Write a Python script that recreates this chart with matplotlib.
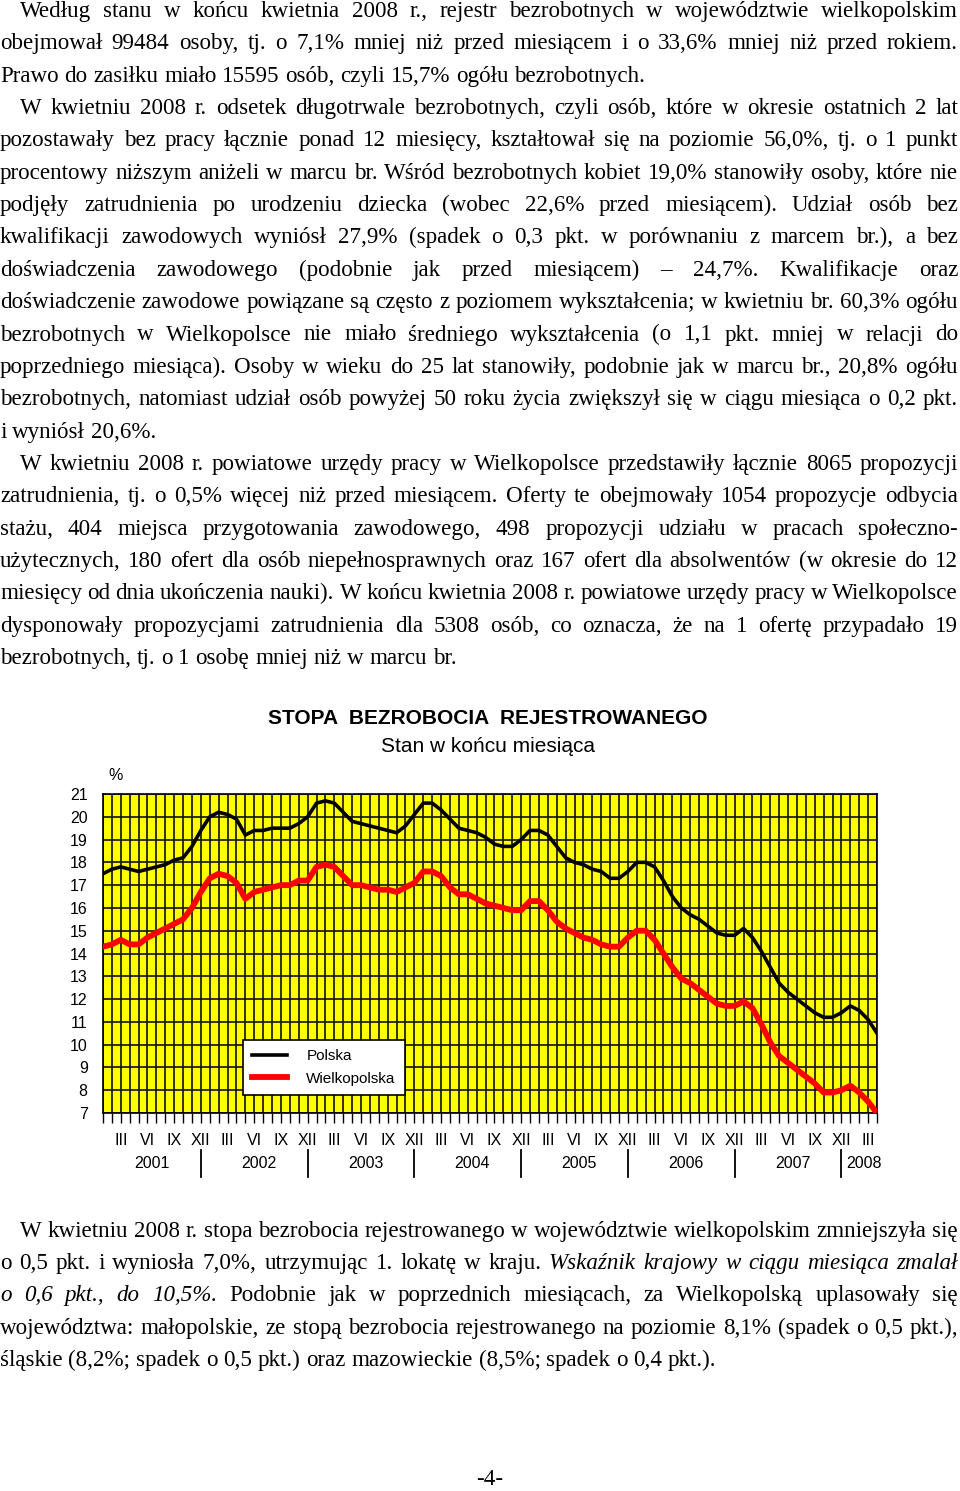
import numpy as np
import matplotlib
matplotlib.use('Agg')
import matplotlib.pyplot as plt
from matplotlib import transforms

W, H = 960, 1491
SERIF = ['Liberation Serif', 'DejaVu Serif']
SANS = ['Liberation Sans', 'DejaVu Sans']
BODY_FS = 16.6
plt.rcParams['font.family'] = SANS

# stopa bezrobocia, styczen 2001 - kwiecien 2008
months = np.arange(88)
polska = [17.5, 17.7, 17.8, 17.7, 17.6, 17.7, 17.8, 17.9, 18.1, 18.2, 18.7, 19.4,
          20.0, 20.2, 20.1, 19.9, 19.2, 19.4, 19.4, 19.5, 19.5, 19.5, 19.7, 20.0,
          20.6, 20.7, 20.6, 20.2, 19.8, 19.7, 19.6, 19.5, 19.4, 19.3, 19.6, 20.1,
          20.6, 20.6, 20.3, 19.9, 19.5, 19.4, 19.3, 19.1, 18.8, 18.7, 18.7, 19.0,
          19.4, 19.4, 19.2, 18.7, 18.2, 18.0, 17.9, 17.7, 17.6, 17.3, 17.3, 17.6,
          18.0, 18.0, 17.8, 17.2, 16.5, 16.0, 15.7, 15.5, 15.2, 14.9, 14.8, 14.8,
          15.1, 14.7, 14.1, 13.4, 12.7, 12.3, 12.0, 11.7, 11.4, 11.2, 11.2, 11.4,
          11.7, 11.5, 11.1, 10.5]
wlkp = [14.3, 14.4, 14.6, 14.4, 14.4, 14.7, 14.9, 15.1, 15.3, 15.5, 16.0, 16.7,
        17.3, 17.5, 17.4, 17.1, 16.4, 16.7, 16.8, 16.9, 17.0, 17.0, 17.2, 17.2,
        17.8, 17.9, 17.8, 17.4, 17.0, 17.0, 16.9, 16.8, 16.8, 16.7, 16.9, 17.1,
        17.6, 17.6, 17.4, 16.9, 16.6, 16.6, 16.4, 16.2, 16.1, 16.0, 15.9, 15.9,
        16.3, 16.3, 15.9, 15.4, 15.1, 14.9, 14.7, 14.6, 14.4, 14.3, 14.3, 14.7,
        15.0, 15.0, 14.6, 14.0, 13.4, 12.9, 12.7, 12.4, 12.1, 11.8, 11.7, 11.7,
        11.9, 11.6, 10.9, 10.1, 9.5, 9.2, 8.9, 8.6, 8.3, 7.9, 7.9, 8.0,
        8.2, 7.9, 7.5, 7.0]
roman = ['III', 'VI', 'IX', 'XII']
years = ['2001', '2002', '2003', '2004', '2005', '2006', '2007', '2008']

top_paragraphs = [
    ["Według stanu w końcu kwietnia 2008 r., rejestr bezrobotnych w województwie wielkopolskim",
     "obejmował 99484 osoby, tj. o 7,1% mniej niż przed miesiącem i o 33,6% mniej niż przed rokiem.",
     "Prawo do zasiłku miało 15595 osób, czyli 15,7% ogółu bezrobotnych."],
    ["W kwietniu 2008 r. odsetek długotrwale bezrobotnych, czyli osób, które w okresie ostatnich 2 lat",
     "pozostawały bez pracy łącznie ponad 12 miesięcy, kształtował się na poziomie 56,0%, tj. o 1 punkt",
     "procentowy niższym aniżeli w marcu br. Wśród bezrobotnych kobiet 19,0% stanowiły osoby, które nie",
     "podjęły zatrudnienia po urodzeniu dziecka (wobec 22,6% przed miesiącem). Udział osób bez",
     "kwalifikacji zawodowych wyniósł 27,9% (spadek o 0,3 pkt. w porównaniu z marcem br.), a bez",
     "doświadczenia zawodowego (podobnie jak przed miesiącem) – 24,7%. Kwalifikacje oraz",
     "doświadczenie zawodowe powiązane są często z poziomem wykształcenia; w kwietniu br. 60,3% ogółu",
     "bezrobotnych w Wielkopolsce nie miało średniego wykształcenia (o 1,1 pkt. mniej w relacji do",
     "poprzedniego miesiąca). Osoby w wieku do 25 lat stanowiły, podobnie jak w marcu br., 20,8% ogółu",
     "bezrobotnych, natomiast udział osób powyżej 50 roku życia zwiększył się w ciągu miesiąca o 0,2 pkt.",
     "i wyniósł 20,6%."],
    ["W kwietniu 2008 r. powiatowe urzędy pracy w Wielkopolsce przedstawiły łącznie 8065 propozycji",
     "zatrudnienia, tj. o 0,5% więcej niż przed miesiącem. Oferty te obejmowały 1054 propozycje odbycia",
     "stażu, 404 miejsca przygotowania zawodowego, 498 propozycji udziału w pracach społeczno-",
     "użytecznych, 180 ofert dla osób niepełnosprawnych oraz 167 ofert dla absolwentów (w okresie do 12",
     "miesięcy od dnia ukończenia nauki). W końcu kwietnia 2008 r. powiatowe urzędy pracy w Wielkopolsce",
     "dysponowały propozycjami zatrudnienia dla 5308 osób, co oznacza, że na 1 ofertę przypadało 19",
     "bezrobotnych, tj. o 1 osobę mniej niż w marcu br."],
]
# '~' = kursywa
bottom_paragraph = [
    "W kwietniu 2008 r. stopa bezrobocia rejestrowanego w województwie wielkopolskim zmniejszyła się",
    "o 0,5 pkt. i wyniosła 7,0%, utrzymując 1. lokatę w kraju. ~Wskaźnik ~krajowy ~w ~ciągu ~miesiąca ~zmalał",
    "~o ~0,6 ~pkt., ~do ~10,5%. Podobnie jak w poprzednich miesiącach, za Wielkopolską uplasowały się",
    "województwa: małopolskie, ze stopą bezrobocia rejestrowanego na poziomie 8,1% (spadek o 0,5 pkt.),",
    "śląskie (8,2%; spadek o 0,5 pkt.) oraz mazowieckie (8,5%; spadek o 0,4 pkt.).",
]


def fx(px):
    return px / W


def fy(py):
    return 1 - py / H


fig = plt.figure(figsize=(W / 100, H / 100), dpi=100)
renderer = fig.canvas.get_renderer()

t1 = fig.text(0, 0, "a a", fontsize=BODY_FS, family=SERIF)
t2 = fig.text(0, 0, "aa", fontsize=BODY_FS, family=SERIF)
space_w = t1.get_window_extent(renderer).width - t2.get_window_extent(renderer).width
t1.remove()
t2.remove()


def text_line(line, base_y, x0, x1, justify):
    arts = []
    for w in line.split():
        it = w.startswith('~')
        arts.append(fig.text(0, fy(base_y), w.lstrip('~'), fontsize=BODY_FS, family=SERIF,
                             style='italic' if it else 'normal', va='baseline', ha='left'))
    widths = [a.get_window_extent(renderer).width for a in arts]
    gap = space_w
    if justify and len(arts) > 1:
        gap = max((x1 - x0 - sum(widths)) / (len(arts) - 1), space_w * 0.6)
    x = x0
    for a, w in zip(arts, widths):
        a.set_x(fx(x))
        x += w + gap


def paragraph(lines, first_base, step):
    for k, line in enumerate(lines):
        text_line(line, first_base + k * step, 20 if k == 0 else 0, 958, k < len(lines) - 1)


n = 0
for para in top_paragraphs:
    paragraph(para, 17 + n * 32.35, 32.35)
    n += len(para)
paragraph(bottom_paragraph, 1237, 32.2)
fig.text(fx(490), fy(1485), "-4-", fontsize=BODY_FS, family=SERIF, ha='center', va='baseline')

# wykres
fig.text(fx(488), fy(719), "STOPA  BEZROBOCIA  REJESTROWANEGO", ha='center', va='center',
         fontsize=15, fontweight='bold')
fig.text(fx(488), fy(747), "Stan w końcu miesiąca", ha='center', va='center', fontsize=15)
fig.text(fx(116), fy(775), "%", ha='center', va='center', fontsize=11.5)

ax = fig.add_axes([fx(103), fy(1113), (877 - 103) / W, (1113 - 794) / H])
ax.set_facecolor('#ffff00')
l1, = ax.plot(months, polska, color='black', lw=2.6, solid_joinstyle='round', zorder=3)
l2, = ax.plot(months, wlkp, color='#ff0000', lw=4.2, solid_joinstyle='round', zorder=3)
ax.set_xlim(0, 87)
ax.set_ylim(7, 21)
ax.set_xticks(months)
ax.set_xticklabels([roman[((i - 2) // 3) % 4] if i % 3 == 2 else '' for i in months], fontsize=11.5)
ax.set_yticks(range(7, 22))
ax.tick_params(axis='x', length=7.2, width=1, direction='out', pad=7)
ax.tick_params(axis='y', length=0, pad=11, labelsize=11.5)
ax.grid(True, color='#111111', lw=1.2)
ax.set_axisbelow(True)
for s in ax.spines.values():
    s.set_color('black')
    s.set_linewidth(1.2)

blend = transforms.blended_transform_factory(ax.transData, fig.transFigure)
for k, yr in enumerate(years):
    a = 12 * k
    b = min(12 * k + 11, 87)
    ax.text((a + b) / 2, fy(1163), yr, transform=blend, ha='center', va='center', fontsize=11.5)
    if k < len(years) - 1:
        ax.plot([b, b], [fy(1150), fy(1177)], transform=blend, color='black', lw=1.3, clip_on=False)

leg = ax.legend([l1, l2], ['Polska', 'Wielkopolska'], loc='upper left',
                bbox_to_anchor=(fx(243), fy(1040)), bbox_transform=fig.transFigure,
                fancybox=False, edgecolor='black', framealpha=1, borderpad=0.6,
                handlelength=2.3, handletextpad=1.25, labelspacing=0.55, borderaxespad=0,
                prop={'family': SANS, 'size': 11})
leg.get_frame().set_linewidth(1.2)

fig.savefig('out.png', dpi=100)
